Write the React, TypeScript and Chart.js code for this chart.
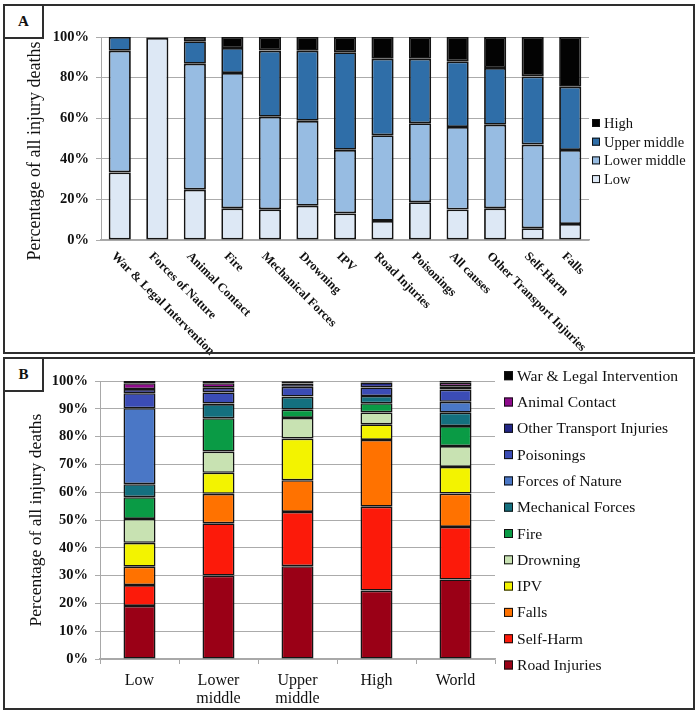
import React, { useEffect, useRef } from "react";
import { Chart, registerables } from "chart.js";

Chart.register(...registerables);

const serif = "'Liberation Serif', 'Times New Roman', 'DejaVu Serif', serif";

// ---------- Panel A data ----------
const causesA = [
  "War & Legal Intervention",
  "Forces of Nature",
  "Animal Contact",
  "Fire",
  "Mechanical Forces",
  "Drowning",
  "IPV",
  "Road Injuries",
  "Poisonings",
  "All causes",
  "Other Transport Injuries",
  "Self-Harm",
  "Falls",
];
const lowA = [33.3, 99.5, 24.8, 15.6, 15.1, 16.9, 13.1, 9.4, 18.6, 15.0, 15.6, 5.8, 7.9];
const lowerMiddleA = [59.9, 0.3, 62.0, 66.7, 45.6, 41.8, 31.3, 42.2, 38.9, 40.7, 41.2, 41.2, 36.4];
const upperMiddleA = [6.8, 0.1, 11.1, 12.3, 32.6, 34.5, 48.1, 37.7, 31.8, 32.3, 27.9, 33.6, 31.2];
const highA = [0, 0.1, 2.1, 5.4, 6.7, 6.8, 7.5, 10.7, 10.7, 12.0, 15.3, 19.4, 24.5];
const seriesNamesA = ["Low", "Lower middle", "Upper middle", "High"];
const seriesColorsA = ["#dde8f5", "#97bce2", "#2f6ea8", "#030303"];
const yTicksA = [0, 20, 40, 60, 80, 100];

// ---------- Panel B data ----------
const incomeGroups = [["Low"], ["Lower", "middle"], ["Upper", "middle"], ["High"], ["World"]];
const roadInjuries = [19.1, 30.0, 33.4, 24.6, 28.6];
const selfHarm = [7.5, 18.8, 19.5, 30.2, 18.9];
const falls = [6.6, 10.6, 11.4, 24.0, 12.0];
const ipv = [8.6, 7.6, 15.0, 5.6, 9.6];
const drowning = [8.6, 7.6, 7.4, 4.3, 7.5];
const fire = [7.8, 12.0, 3.0, 3.3, 7.2];
const mechanicalForces = [4.7, 5.1, 4.6, 2.6, 4.8];
const forcesOfNature = [27.3, 0.2, 0.1, 0.0, 3.9];
const poisonings = [5.4, 4.0, 3.5, 3.1, 4.4];
const otherTransport = [1.5, 1.7, 1.2, 1.8, 1.2];
const animalContact = [2.1, 1.6, 0.6, 0.3, 1.3];
const warLegal = [0.8, 0.8, 0.3, 0.2, 0.6];
const seriesNamesB = [
  "Road Injuries",
  "Self-Harm",
  "Falls",
  "IPV",
  "Drowning",
  "Fire",
  "Mechanical Forces",
  "Forces of Nature",
  "Poisonings",
  "Other Transport Injuries",
  "Animal Contact",
  "War & Legal Intervention",
];
const seriesColorsB = [
  "#9a0016",
  "#fc1a0a",
  "#ff7200",
  "#f3f300",
  "#c8e2b2",
  "#0a9b45",
  "#14707f",
  "#4a77c6",
  "#3b4cb5",
  "#222686",
  "#8e0a8c",
  "#050505",
];
const seriesValuesB = [
  roadInjuries,
  selfHarm,
  falls,
  ipv,
  drowning,
  fire,
  mechanicalForces,
  forcesOfNature,
  poisonings,
  otherTransport,
  animalContact,
  warLegal,
];
const yTicksB = [0, 10, 20, 30, 40, 50, 60, 70, 80, 90, 100];

const yTitle = "Percentage of all injury deaths";

type OverlayOpts = {
  titleX: number;
  titleY: number;
  titleSize: number;
  legendX: number;
  legendY: number;
  legendStep: number;
  legendBox: number;
  legendSize: number;
  rotatedLabels?: string[];
};

function makeOverlay(o: OverlayOpts) {
  return {
    id: "overlay",
    afterDraw(chart: any) {
      const ctx = chart.ctx;
      // y axis title
      ctx.save();
      ctx.translate(o.titleX, o.titleY);
      ctx.rotate(-Math.PI / 2);
      ctx.font = `${o.titleSize}px ${serif}`;
      ctx.fillStyle = "#111";
      ctx.textAlign = "center";
      ctx.textBaseline = "middle";
      ctx.fillText(yTitle, 0, 0);
      ctx.restore();

      // rotated category labels
      if (o.rotatedLabels) {
        const xs = chart.scales.x;
        const base = chart.chartArea.bottom;
        o.rotatedLabels.forEach((lab, i) => {
          const px = xs.getPixelForValue(i);
          ctx.save();
          ctx.translate(px - 2, base + 10);
          ctx.rotate(Math.PI / 4);
          ctx.font = `bold 12.5px ${serif}`;
          ctx.fillStyle = "#111";
          ctx.textAlign = "left";
          ctx.textBaseline = "top";
          ctx.fillText(lab, 0, 0);
          ctx.restore();
        });
      }

      // legend (reverse of stacking order)
      const ds = chart.data.datasets;
      const n = ds.length;
      ctx.save();
      ctx.font = `${o.legendSize}px ${serif}`;
      ctx.textAlign = "left";
      ctx.textBaseline = "middle";
      for (let k = 0; k < n; k++) {
        const d = ds[n - 1 - k];
        const cy = o.legendY + k * o.legendStep;
        const b = o.legendBox;
        ctx.fillStyle = d.backgroundColor;
        ctx.fillRect(o.legendX, cy - b / 2, b, b);
        ctx.strokeStyle = "#111";
        ctx.lineWidth = 1;
        ctx.strokeRect(o.legendX + 0.5, cy - b / 2 + 0.5, b - 1, b - 1);
        ctx.fillStyle = "#111";
        ctx.fillText(d.label, o.legendX + b + 4, cy + 1);
      }
      ctx.restore();
    },
  };
}

function configA(): any {
  const values = [lowA, lowerMiddleA, upperMiddleA, highA];
  return {
    type: "bar",
    data: {
      labels: causesA,
      datasets: values.map((v, i) => ({
        label: seriesNamesA[i],
        data: v,
        backgroundColor: seriesColorsA[i],
        borderColor: "#141414",
        borderWidth: 1.8,
        borderSkipped: false,
      })),
    },
    options: {
      responsive: false,
      animation: false,
      devicePixelRatio: 1,
      layout: { padding: { left: 0, top: 37, right: 110, bottom: 0 } },
      plugins: { legend: { display: false }, tooltip: { enabled: false } },
      datasets: { bar: { categoryPercentage: 1, barPercentage: 0.59 } },
      scales: {
        x: {
          stacked: true,
          grid: { display: false },
          border: { display: true, color: "#a8a8a8", width: 1.5 },
          ticks: { display: false },
          afterFit: (s: any) => {
            s.height = 116;
          },
        },
        y: {
          stacked: true,
          min: 0,
          max: 100,
          afterBuildTicks: (s: any) => {
            s.ticks = yTicksA.map((v) => ({ value: v }));
          },
          ticks: {
            callback: (v: any) => v + "%",
            font: { family: serif, size: 14.5, weight: "bold" },
            color: "#111",
            padding: 7,
          },
          grid: { color: "#ababab", lineWidth: 1, tickLength: 5, drawTicks: true },
          border: { display: true, color: "#a8a8a8" },
          afterFit: (s: any) => {
            s.width = 101;
          },
        },
      },
    },
    plugins: [
      makeOverlay({
        titleX: 35,
        titleY: 151,
        titleSize: 18,
        legendX: 592,
        legendY: 123,
        legendStep: 18.7,
        legendBox: 8,
        legendSize: 14.5,
        rotatedLabels: causesA,
      }),
    ],
  };
}

function configB(): any {
  return {
    type: "bar",
    data: {
      labels: incomeGroups,
      datasets: seriesValuesB.map((v, i) => ({
        label: seriesNamesB[i],
        data: v,
        backgroundColor: seriesColorsB[i],
        borderColor: "#141414",
        borderWidth: 1.6,
        borderSkipped: false,
      })),
    },
    options: {
      responsive: false,
      animation: false,
      devicePixelRatio: 1,
      layout: { padding: { left: 0, top: 25, right: 204, bottom: 0 } },
      plugins: { legend: { display: false }, tooltip: { enabled: false } },
      datasets: { bar: { categoryPercentage: 1, barPercentage: 0.405 } },
      scales: {
        x: {
          stacked: true,
          grid: {
            display: true,
            drawOnChartArea: false,
            drawTicks: true,
            tickLength: 5,
            color: "#a8a8a8",
            offset: true,
          },
          border: { display: true, color: "#a8a8a8", width: 1.5 },
          ticks: {
            font: { family: serif, size: 16, lineHeight: 1.12 },
            color: "#111",
            padding: 8,
            maxRotation: 0,
            minRotation: 0,
          },
          afterFit: (s: any) => {
            s.height = 55;
          },
        },
        y: {
          stacked: true,
          min: 0,
          max: 100,
          afterBuildTicks: (s: any) => {
            s.ticks = yTicksB.map((v) => ({ value: v }));
          },
          ticks: {
            callback: (v: any) => v + "%",
            font: { family: serif, size: 14.5, weight: "bold" },
            color: "#111",
            padding: 7,
          },
          grid: { color: "#ababab", lineWidth: 1, tickLength: 5, drawTicks: true },
          border: { display: true, color: "#a8a8a8" },
          afterFit: (s: any) => {
            s.width = 100;
          },
        },
      },
    },
    plugins: [
      makeOverlay({
        titleX: 36,
        titleY: 164,
        titleSize: 17.5,
        legendX: 504,
        legendY: 19.7,
        legendStep: 26.3,
        legendBox: 9,
        legendSize: 15.6,
      }),
    ],
  };
}

function ChartCanvas(props: { make: () => any; top: number; height: number }) {
  const ref = useRef<HTMLCanvasElement>(null);
  useEffect(() => {
    const chart = new Chart(ref.current as HTMLCanvasElement, props.make());
    return () => chart.destroy();
  }, []);
  return (
    <canvas
      ref={ref}
      width={699}
      height={props.height}
      style={{
        position: "absolute",
        left: 0,
        top: props.top,
        width: 699,
        height: props.height,
        display: "block",
      }}
    />
  );
}

const borderColor = "#2e2e2e";

function PanelFrame(props: { top: number; height: number; letter: string }) {
  return (
    <>
      <div
        style={{
          position: "absolute",
          left: 3,
          top: props.top,
          width: 692,
          height: props.height,
          border: `2px solid ${borderColor}`,
          boxSizing: "border-box",
          pointerEvents: "none",
        }}
      />
      <div
        style={{
          position: "absolute",
          left: 3,
          top: props.top,
          width: 41,
          height: 35,
          border: `2px solid ${borderColor}`,
          boxSizing: "border-box",
          background: "#fff",
          display: "flex",
          alignItems: "center",
          justifyContent: "center",
          fontFamily: serif,
          fontWeight: "bold",
          fontSize: 15,
          color: "#111",
        }}
      >
        {props.letter}
      </div>
    </>
  );
}

export default function App() {
  return (
    <div
      style={{
        position: "absolute",
        left: 0,
        top: 0,
        width: 699,
        height: 714,
        background: "#fff",
        overflow: "hidden",
      }}
    >
      <ChartCanvas make={configA} top={0} height={356} />
      <ChartCanvas make={configB} top={356} height={358} />
      <PanelFrame top={4} height={350} letter="A" />
      <PanelFrame top={357} height={353} letter="B" />
    </div>
  );
}
